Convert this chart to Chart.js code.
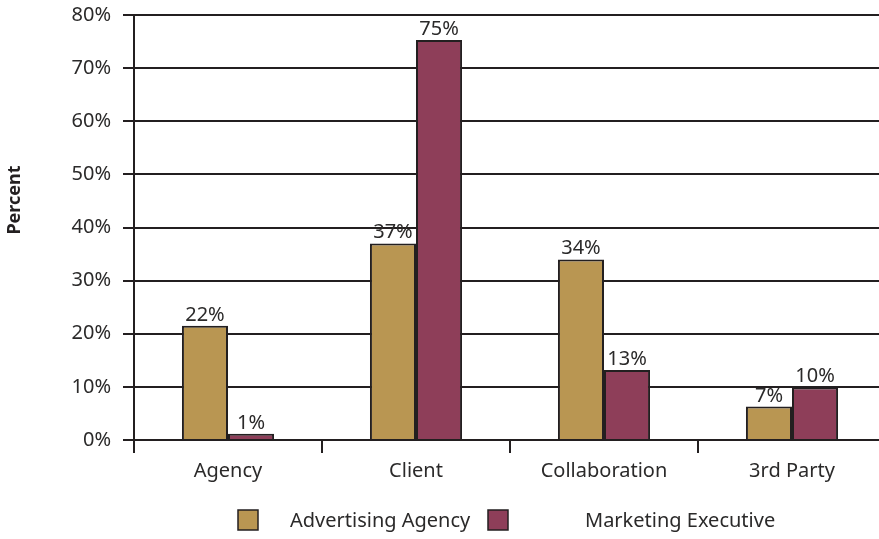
<!DOCTYPE html>
<html>
<head>
<meta charset="utf-8">
<script src="https://cdn.jsdelivr.net/npm/chart.js@4.4.0/dist/chart.umd.min.js"></script>
<style>
  html, body { margin: 0; padding: 0; background: #fff; overflow: hidden; }
  #wrap { width: 879px; height: 539px; overflow: hidden; }
</style>
</head>
<body>
<div id="wrap"><canvas id="chart" width="886" height="539"></canvas></div>
<script>
const categories = ["Agency", "Client", "Collaboration", "3rd Party"];
const agencyValues = [21.5, 37, 34, 6.3];
const executiveValues = [1.2, 75.3, 13.2, 9.9];
const agencyLabels = ["22%", "37%", "34%", "7%"];
const executiveLabels = ["1%", "75%", "13%", "10%"];
const seriesNames = ["Advertising Agency", "Marketing Executive"];
const yTicks = [0, 10, 20, 30, 40, 50, 60, 70, 80];
const yTitle = "Percent";

const ink = '#231f20';
const textInk = '#2b2a2a';
const gold = '#b99652';
const maroon = '#8e3e59';
const fontFamily = '"Noto Sans", sans-serif';

const barLabels = {
  id: 'barLabels',
  afterDatasetsDraw(chart) {
    const ctx = chart.ctx;
    const texts = [agencyLabels, executiveLabels];
    ctx.save();
    ctx.font = '20px ' + fontFamily;
    ctx.fillStyle = textInk;
    ctx.textAlign = 'center';
    ctx.textBaseline = 'alphabetic';
    chart.data.datasets.forEach((ds, i) => {
      chart.getDatasetMeta(i).data.forEach((bar, j) => {
        ctx.fillText(texts[i][j], bar.x, bar.y - 5);
      });
    });
    ctx.restore();
  }
};

const extras = {
  id: 'extras',
  afterDraw(chart) {
    const ctx = chart.ctx;
    const colors = [gold, maroon];
    const boxX = [238, 488];
    const textX = [290, 585];
    ctx.save();
    ctx.font = '20px ' + fontFamily;
    ctx.textBaseline = 'middle';
    ctx.textAlign = 'left';
    seriesNames.forEach((name, i) => {
      ctx.fillStyle = colors[i];
      ctx.fillRect(boxX[i], 510, 20, 20);
      ctx.strokeStyle = ink;
      ctx.lineWidth = 1.5;
      ctx.strokeRect(boxX[i], 510, 20, 20);
      ctx.fillStyle = textInk;
      ctx.fillText(name, textX[i], 521);
    });
    // rotated y-axis title
    ctx.translate(15, 200);
    ctx.rotate(-Math.PI / 2);
    ctx.textAlign = 'center';
    ctx.font = 'bold 18px ' + fontFamily;
    ctx.fillStyle = ink;
    ctx.fillText(yTitle, 0, 0);
    ctx.restore();
  }
};

new Chart(document.getElementById('chart'), {
  type: 'bar',
  data: {
    labels: categories,
    datasets: [
      { label: seriesNames[0], data: agencyValues, backgroundColor: gold, borderColor: ink, borderWidth: 2 },
      { label: seriesNames[1], data: executiveValues, backgroundColor: maroon, borderColor: ink, borderWidth: 2 }
    ]
  },
  options: {
    responsive: false,
    animation: false,
    layout: { padding: { top: 15, right: 0, left: 0, bottom: 0 } },
    datasets: { bar: { categoryPercentage: 0.49, barPercentage: 1 } },
    plugins: { legend: { display: false }, tooltip: { enabled: false } },
    scales: {
      x: {
        afterFit(scale) { scale.height = 99; scale.paddingLeft = 0; scale.paddingRight = 0; },
        grid: { offset: true, drawOnChartArea: false, color: ink, lineWidth: 2, tickLength: 13, tickColor: ink, tickWidth: 2 },
        border: { display: false },
        ticks: { color: textInk, font: { family: fontFamily, size: 20 }, padding: 6 }
      },
      y: {
        min: 0,
        max: 80,
        afterFit(scale) { scale.width = 134; scale.paddingTop = 0; scale.paddingBottom = 0; },
        afterBuildTicks(scale) { scale.ticks = yTicks.map(v => ({ value: v })); },
        grid: { color: ink, lineWidth: 2, tickLength: 11, tickColor: ink, tickWidth: 2 },
        border: { display: true, color: ink, width: 2 },
        ticks: { color: textInk, font: { family: fontFamily, size: 20 }, padding: 12, callback: v => v + '%' }
      }
    }
  },
  plugins: [barLabels, extras]
});
</script>
</body>
</html>
